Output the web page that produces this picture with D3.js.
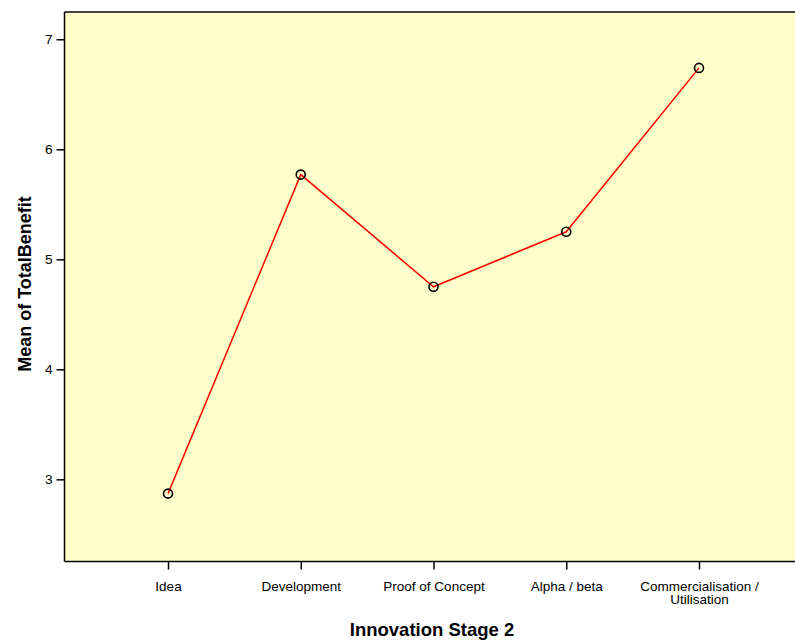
<!DOCTYPE html>
<html>
<head>
<meta charset="utf-8">
<script src="https://cdn.jsdelivr.net/npm/d3@7"></script>
<style>
  html, body { margin: 0; padding: 0; background: #ffffff; }
  svg { display: block; font-family: "Liberation Sans", Arial, sans-serif; }
</style>
</head>
<body>
<svg id="chart" width="795" height="640"></svg>
<script>
const categories = ["Idea", "Development", "Proof of Concept", "Alpha / beta", "Commercialisation / Utilisation"];
const categoryLines = [["Idea"], ["Development"], ["Proof of Concept"], ["Alpha / beta"], ["Commercialisation /", "Utilisation"]];
const meanValues = [2.87, 5.77, 4.75, 5.25, 6.74];
const yTicks = [3, 4, 5, 6, 7];
const xTitle = "Innovation Stage 2";
const yTitle = "Mean of TotalBenefit";

const svg = d3.select("#chart");
const W = 795, H = 640;
const plot = { left: 64.5, top: 12, right: 800, bottom: 561.5 };

const x = d3.scalePoint().domain(categories).range([168, 699]).padding(0);
const y = d3.scaleLinear().domain([2.253, 7.248]).range([plot.bottom, plot.top]);

// background
svg.append("rect")
  .attr("x", plot.left).attr("y", plot.top)
  .attr("width", plot.right - plot.left).attr("height", plot.bottom - plot.top)
  .attr("fill", "#ffffcc");

// top border
svg.append("line")
  .attr("x1", plot.left).attr("x2", W)
  .attr("y1", plot.top).attr("y2", plot.top)
  .attr("stroke", "#444").attr("stroke-width", 2);

// Y axis
const yAxis = d3.axisLeft(y).tickValues(yTicks).tickSize(8).tickPadding(4).tickFormat(d3.format("d"));
const gy = svg.append("g").attr("transform", `translate(${plot.left},0)`).call(yAxis);
gy.select(".domain").remove();
gy.selectAll(".tick line").attr("stroke", "#000").attr("stroke-width", 1.5);
gy.selectAll(".tick text").attr("font-size", "13.7px").attr("fill", "#000")
  .attr("font-family", "Liberation Sans, Arial, sans-serif");
svg.append("line")
  .attr("x1", plot.left).attr("x2", plot.left)
  .attr("y1", plot.top).attr("y2", plot.bottom)
  .attr("stroke", "#000").attr("stroke-width", 1.5);

// X axis
const xAxis = d3.axisBottom(x).tickSize(8).tickFormat("");
const gx = svg.append("g").attr("transform", `translate(0,${plot.bottom})`).call(xAxis);
gx.select(".domain").remove();
gx.selectAll(".tick line").attr("stroke", "#000").attr("stroke-width", 1.5);
gx.selectAll(".tick").each(function(d, i) {
  const t = d3.select(this).append("text")
    .attr("text-anchor", "middle")
    .attr("font-size", "13.5px")
    .attr("fill", "#000")
    .attr("font-family", "Liberation Sans, Arial, sans-serif");
  categoryLines[i].forEach((ln, j) => {
    t.append("tspan").attr("x", 0).attr("y", 29 + j * 13.5).text(ln);
  });
});
svg.append("line")
  .attr("x1", plot.left).attr("x2", W)
  .attr("y1", plot.bottom).attr("y2", plot.bottom)
  .attr("stroke", "#000").attr("stroke-width", 1.5);

// line
const data = categories.map((c, i) => ({ c, v: meanValues[i] }));
svg.append("path")
  .datum(data)
  .attr("fill", "none")
  .attr("stroke", "#ff0000")
  .attr("stroke-width", 1.5)
  .attr("d", d3.line().x(d => x(d.c)).y(d => y(d.v)));

svg.selectAll("circle.pt").data(data).enter().append("circle")
  .attr("class", "pt")
  .attr("cx", d => x(d.c)).attr("cy", d => y(d.v))
  .attr("r", 4.5)
  .attr("fill", "none")
  .attr("stroke", "#000")
  .attr("stroke-width", 1.6);

// titles
svg.append("text")
  .attr("x", 432).attr("y", 636)
  .attr("text-anchor", "middle")
  .attr("font-weight", "bold")
  .attr("font-size", "18.5px")
  .attr("fill", "#000")
  .text(xTitle);

svg.append("text")
  .attr("transform", `translate(31,284) rotate(-90)`)
  .attr("text-anchor", "middle")
  .attr("font-weight", "bold")
  .attr("font-size", "18px")
  .attr("fill", "#000")
  .text(yTitle);
</script>
</body>
</html>
